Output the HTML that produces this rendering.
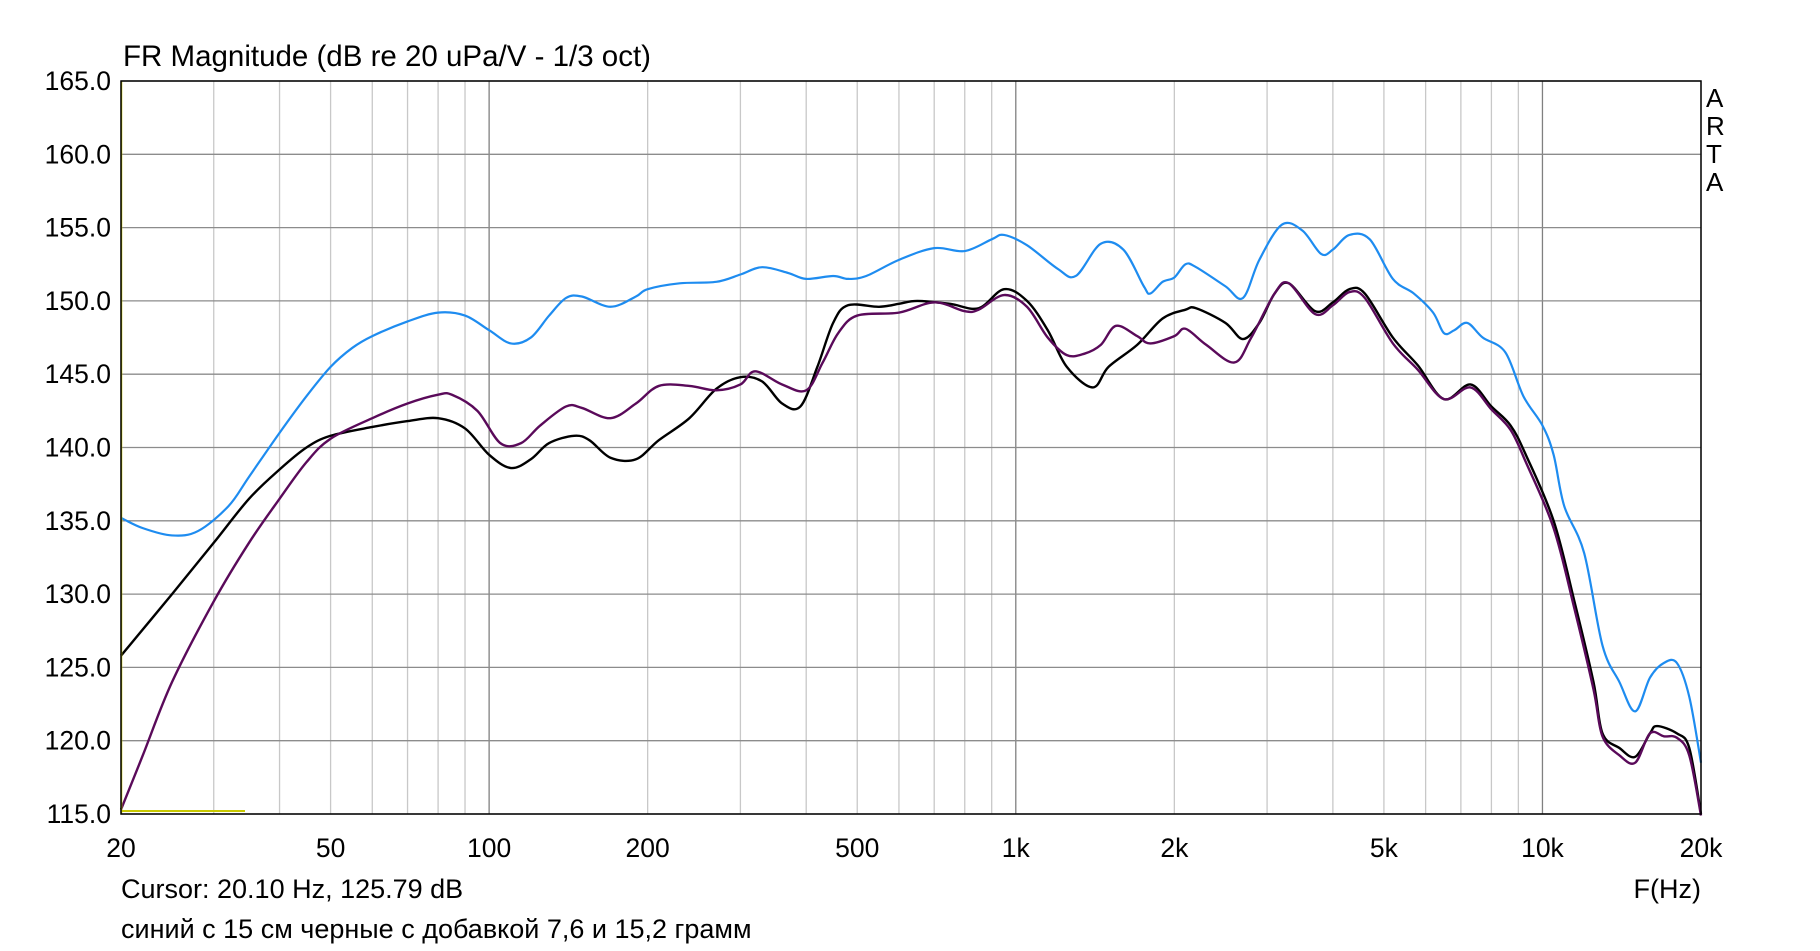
<!DOCTYPE html>
<html><head><meta charset="utf-8"><style>
body{margin:0;background:#fff}
svg text{font-family:"Liberation Sans",sans-serif;fill:#000}
</style></head><body>
<svg id="s" width="1820" height="946" xmlns="http://www.w3.org/2000/svg">
<text x="123" y="66" font-size="29.5">FR Magnitude (dB re 20 uPa/V - 1/3 oct)</text>
<g id="grid"></g>
<g id="curves"></g>
<line x1="121" y1="811" x2="245" y2="811" stroke="#c8c800" stroke-width="2"/>
<line x1="121.5" y1="81" x2="121.5" y2="814" stroke="#c8c800" stroke-width="1.5"/>
<rect x="121" y="81" width="1580" height="733" fill="none" stroke="#000" stroke-width="1.5"/>
<g font-size="26">
<text x="1706" y="107">A</text><text x="1706" y="135">R</text><text x="1706" y="163">T</text><text x="1706" y="191">A</text>
</g>
<g font-size="27">
<text x="121" y="898">Cursor: 20.10 Hz, 125.79 dB</text>
<text x="1701" y="898" text-anchor="end">F(Hz)</text>
<text x="121" y="938">синий с 15 см черные с добавкой 7,6 и 15,2 грамм</text>
</g>
</svg>
<script>
const L=121,R=1701,T=81,B=814;
const X=f=>L+(R-L)*Math.log10(f/20)/3, Y=d=>T+(165-d)*(B-T)/50;
const g=document.getElementById('grid');let h='';
[20,30,40,50,60,70,80,90,100,200,300,400,500,600,700,800,900,1000,2000,3000,4000,5000,6000,7000,8000,9000,10000,20000].forEach(f=>{
 const dec=[100,1000,10000].includes(f);const x=X(f);
 h+=`<line x1="${x}" y1="${T}" x2="${x}" y2="${B}" stroke="${dec?'#808080':'#c8c8c8'}" stroke-width="1.3"/>`;});
for(let d=115;d<=165;d+=5){const y=Y(d);h+=`<line x1="${L}" y1="${y}" x2="${R}" y2="${y}" stroke="#8c8c8c" stroke-width="1.3"/>`;
 h+=`<text x="111" y="${y+9}" font-size="26.5" text-anchor="end">${d.toFixed(1)}</text>`;}
[[20,'20'],[50,'50'],[100,'100'],[200,'200'],[500,'500'],[1000,'1k'],[2000,'2k'],[5000,'5k'],[10000,'10k'],[20000,'20k']].forEach(([f,t])=>{
 h+=`<text x="${X(f)}" y="857" font-size="26.5" text-anchor="middle">${t}</text>`;});
g.innerHTML=h;
function P(s){return s.trim().split(/\s+/).map(p=>p.split(':').map(Number));}
const blue=P(`20:135.2 22:134.5 25:134.0 28:134.3 32:136 35:138 40:141 45:143.5 50:145.5 55:146.8 60:147.6 70:148.6 80:149.2 90:149.0 100:148 110:147.1 120:147.5 130:149 140:150.2 150:150.3 170:149.6 190:150.3 200:150.8 230:151.2 270:151.3 300:151.8 330:152.3 370:151.9 400:151.5 450:151.7 480:151.5 520:151.7 600:152.8 700:153.6 800:153.4 900:154.2 950:154.5 1050:153.8 1200:152.2 1300:151.7 1450:153.9 1600:153.5 1750:151 1800:150.5 1900:151.3 2000:151.6 2100:152.5 2200:152.3 2500:151 2700:150.2 2900:152.8 3200:155.2 3500:154.8 3800:153.2 4000:153.5 4300:154.5 4700:154.2 5200:151.5 5700:150.5 6200:149.2 6500:147.8 6800:148 7200:148.5 7700:147.5 8500:146.5 9200:143.5 10000:141.5 10500:139.5 11000:136 12000:132.8 13000:126.5 14000:124 15000:122 16000:124.3 17000:125.3 18000:125.3 19000:123 20000:118.5`);
const black=P(`20:125.8 25:130 30:133.5 35:136.5 40:138.5 45:140 50:140.8 60:141.4 70:141.8 80:142 90:141.3 100:139.5 110:138.6 120:139.2 130:140.3 145:140.8 155:140.5 170:139.3 190:139.2 210:140.5 240:142 270:144 300:144.8 330:144.5 360:143 390:142.8 420:145.5 450:148.5 480:149.7 550:149.6 600:149.8 650:150 750:149.8 850:149.5 950:150.8 1050:150 1150:148 1250:145.5 1400:144.1 1500:145.5 1700:147 1900:148.8 2100:149.4 2200:149.5 2500:148.5 2700:147.4 2900:148.5 3100:150.5 3300:151.2 3700:149.3 4000:149.9 4300:150.8 4600:150.5 5200:147.5 5800:145.6 6500:143.3 7300:144.3 8000:142.8 8700:141.5 9300:139.5 10500:135 11500:129.5 12500:124 13000:120.5 14000:119.5 15000:118.9 16000:120.5 16500:121 18000:120.5 19000:119.5 20000:115`);
const purple=P(`20:115.3 22:119 25:124 30:129.5 35:133.5 40:136.5 45:139 50:140.6 60:142 70:143 80:143.6 85:143.6 95:142.5 105:140.3 115:140.3 125:141.5 140:142.8 150:142.7 170:142 190:143 210:144.2 240:144.2 270:143.9 300:144.3 320:145.2 360:144.3 400:143.9 430:145.8 460:147.8 500:149 600:149.2 700:149.9 800:149.3 850:149.4 950:150.4 1050:149.6 1150:147.5 1250:146.3 1350:146.4 1450:147 1550:148.3 1700:147.6 1800:147.1 2000:147.6 2100:148.1 2300:147 2600:145.8 2800:147.5 3100:150.5 3300:151.2 3700:149.1 4000:149.7 4300:150.6 4600:150.2 5200:147.1 5800:145.3 6500:143.3 7300:144.1 8000:142.6 8700:141.2 9300:139 10500:134.5 11500:129 12500:123.5 13000:120.3 14000:119 15000:118.5 16000:120.5 17000:120.3 18000:120.2 19000:119 20000:114.9`);
function path(d){const p=d.map(([f,v])=>[X(f),Y(v)]);let s=`M${p[0][0]},${p[0][1]}`;
 for(let i=0;i<p.length-1;i++){const p0=p[Math.max(0,i-1)],p1=p[i],p2=p[i+1],p3=p[Math.min(p.length-1,i+2)];
 s+=` C${p1[0]+(p2[0]-p0[0])/6},${p1[1]+(p2[1]-p0[1])/6} ${p2[0]-(p3[0]-p1[0])/6},${p2[1]-(p3[1]-p1[1])/6} ${p2[0]},${p2[1]}`;}return s;}
document.getElementById('curves').innerHTML=
 `<path d="${path(blue)}" fill="none" stroke="#1e8cf0" stroke-width="2.2"/>`+
 `<path d="${path(black)}" fill="none" stroke="#000" stroke-width="2.4"/>`+
 `<path d="${path(purple)}" fill="none" stroke="#5a0a5a" stroke-width="2.4"/>`;
</script>
</body></html>
